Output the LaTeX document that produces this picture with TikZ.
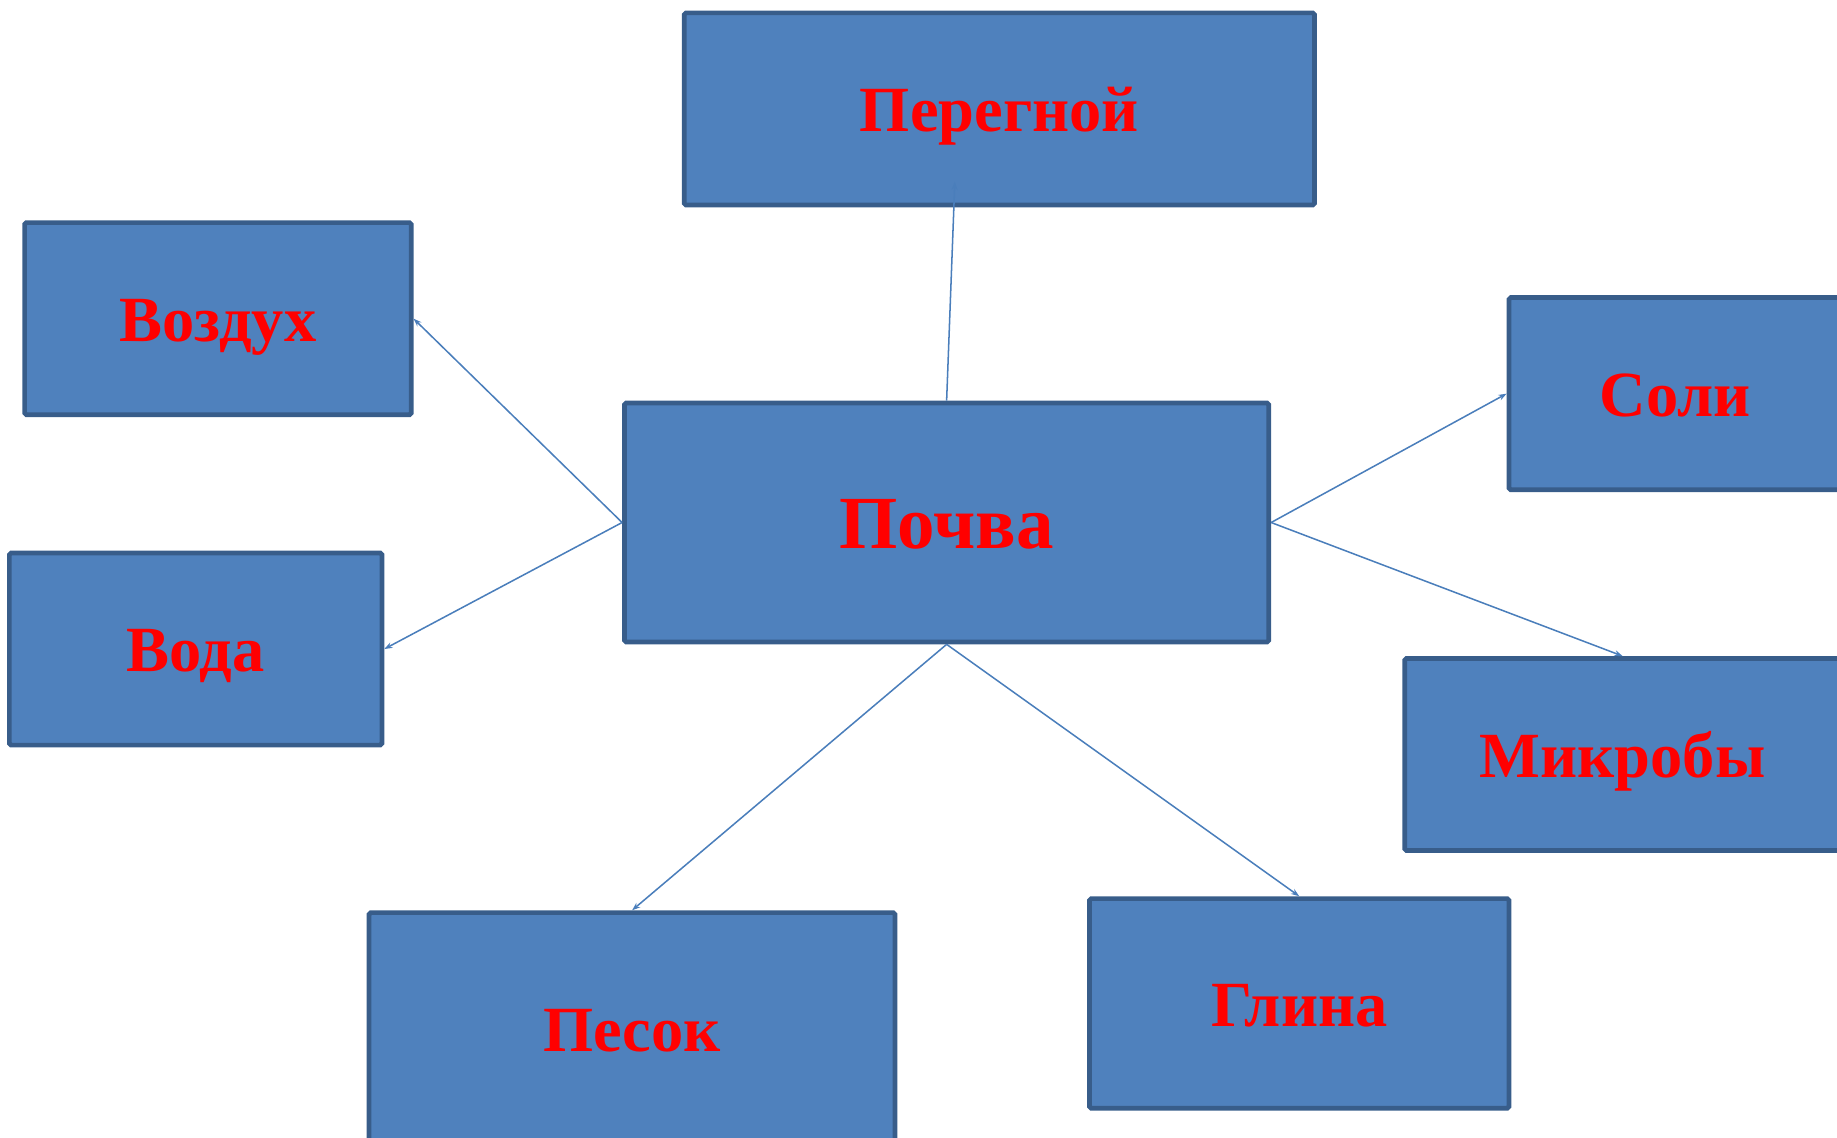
\documentclass[tikz,border=0pt]{standalone}
\usepackage{fontspec}
\setmainfont{Liberation Serif}
\usetikzlibrary{arrows.meta}
\definecolor{boxfill}{HTML}{4F81BD}
\definecolor{boxborder}{HTML}{385D8A}
\definecolor{linkcol}{HTML}{4A7EBB}
\begin{document}
\begin{tikzpicture}[x=1pt,y=-1pt,
  box/.style={draw=boxborder, fill=boxfill, line width=4pt, rounded corners=1.5pt,
    text=red, inner sep=0pt, text height=39pt, text depth=0pt,
    font=\bfseries\fontsize{55}{60}\selectfont},
  link/.style={draw=linkcol, line width=1.3pt, -{Stealth[length=7pt,width=5pt]}}]
\useasboundingbox (0,0) rectangle (1568,971);
\node[box, minimum width=538pt, minimum height=164pt] (peregnoi) at (853,93) {Перегной};
\node[box, minimum width=330pt, minimum height=164pt] (vozduh) at (186,272) {Воздух};
\node[box, minimum width=318pt, minimum height=164pt] (voda) at (167,554) {Вода};
\node[box, minimum width=550pt, minimum height=204pt, text height=44pt, font=\bfseries\fontsize{64}{70}\selectfont] (pochva) at (808,446) {Почва};
\node[box, minimum width=284pt, minimum height=164pt] (soli) at (1430,336) {Соли};
\node[box, minimum width=372pt, minimum height=164pt] (mikroby) at (1385,644) {Микробы};
\node[box, minimum width=449pt, minimum height=198pt] (pesok) at (539.5,878) {Песок};
\node[box, minimum width=358pt, minimum height=179pt] (glina) at (1109,856.5) {Глина};
\coordinate (pend) at (815,155);
\draw[link] (pochva.north) -- (pend);
\draw[link] (pochva.west) -- (vozduh.east);
\draw[link] (pochva.west) -- (voda.east);
\draw[link] (pochva.east) -- (soli.west);
\draw[link] (pochva.east) -- (mikroby.north);
\draw[link] (pochva.south) -- (pesok.north);
\draw[link] (pochva.south) -- (glina.north);
\end{tikzpicture}
\end{document}
